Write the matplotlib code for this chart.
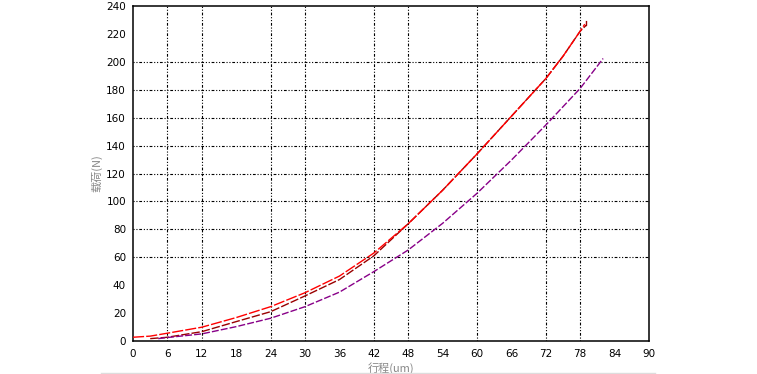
# 载荷-行程曲线
import matplotlib
matplotlib.use('Agg')
import matplotlib.pyplot as plt
from matplotlib.lines import Line2D

# 数据
x_red = [0, 3, 6, 12, 18, 24, 30, 36, 42, 48, 54, 60, 66, 72, 75, 78, 78.8]
y_red = [2.7, 3.5, 5.6, 9.9, 16.8, 24.6, 34.6, 46.5, 63, 84, 108, 134, 161, 188, 204, 222, 227]

x_dark = [3, 6, 12, 18, 24, 30, 36, 42, 48, 54, 60, 66, 72, 75, 78, 79, 79.1, 79.1]
y_dark = [1.7, 2.7, 6.7, 13.9, 21, 32.3, 44, 61, 84, 108, 134, 161, 188, 204, 222, 226, 226, 230]

x_purple = [4.4, 6, 12, 18, 24, 30, 36, 42, 48, 54, 60, 66, 72, 78, 82]
y_purple = [1.7, 2.5, 5.1, 10.3, 16.3, 24.6, 35, 49.7, 65.2, 84.3, 105.8, 129.6, 154.7, 181, 202.4]

x_ticks = list(range(0, 91, 6))
y_ticks = list(range(0, 241, 20))
x_grid = [6, 12, 24, 30, 42, 48, 60, 72, 78]
y_grid = [60, 80, 100, 120, 140, 160, 180, 200]

cjk = ['Noto Sans CJK SC', 'DejaVu Sans']

fig = plt.figure(figsize=(7.57, 3.74), dpi=100)
ax = fig.add_axes([0.1757, 0.0882, 0.6816, 0.8957])

# 网格线 (点划线)
grid_style = dict(color='black', linewidth=0.8, linestyle=(0, (1, 1.6, 1, 1.6, 2.5, 1.6)), zorder=1)
for gx in x_grid:
    ax.axvline(gx, **grid_style)
for gy in y_grid:
    ax.axhline(gy, **grid_style)

# 曲线
ax.plot(x_red, y_red, color='#ff0000', linewidth=1, linestyle=(0, (8, 1.5)), zorder=3)
ax.plot(x_dark, y_dark, color='#990000', linewidth=1, linestyle=(0, (6, 1.5)), zorder=2)
ax.plot(x_purple, y_purple, color='#880088', linewidth=1, linestyle=(0, (5, 1.5)), zorder=2)

ax.set_xlim(0, 90)
ax.set_ylim(0, 240)
ax.set_xticks(x_ticks)
ax.set_yticks(y_ticks)
ax.tick_params(length=0, labelsize=7.5, pad=5)
ax.tick_params(axis='x', pad=6)
for s in ax.spines.values():
    s.set_linewidth(1.1)
    s.set_color('black')

ax.set_xlabel('行程(um)', family=cjk, fontsize=8, color='#888888', labelpad=2)
ax.set_ylabel('载荷(N)', family=cjk, fontsize=8, color='#888888', labelpad=3)

# 底部浅灰线
fig.add_artist(Line2D([101 / 757, 655 / 757], [1 - 372.5 / 374, 1 - 372.5 / 374],
                      color='#dddddd', linewidth=1, transform=fig.transFigure))

fig.savefig('out.png', dpi=100)
